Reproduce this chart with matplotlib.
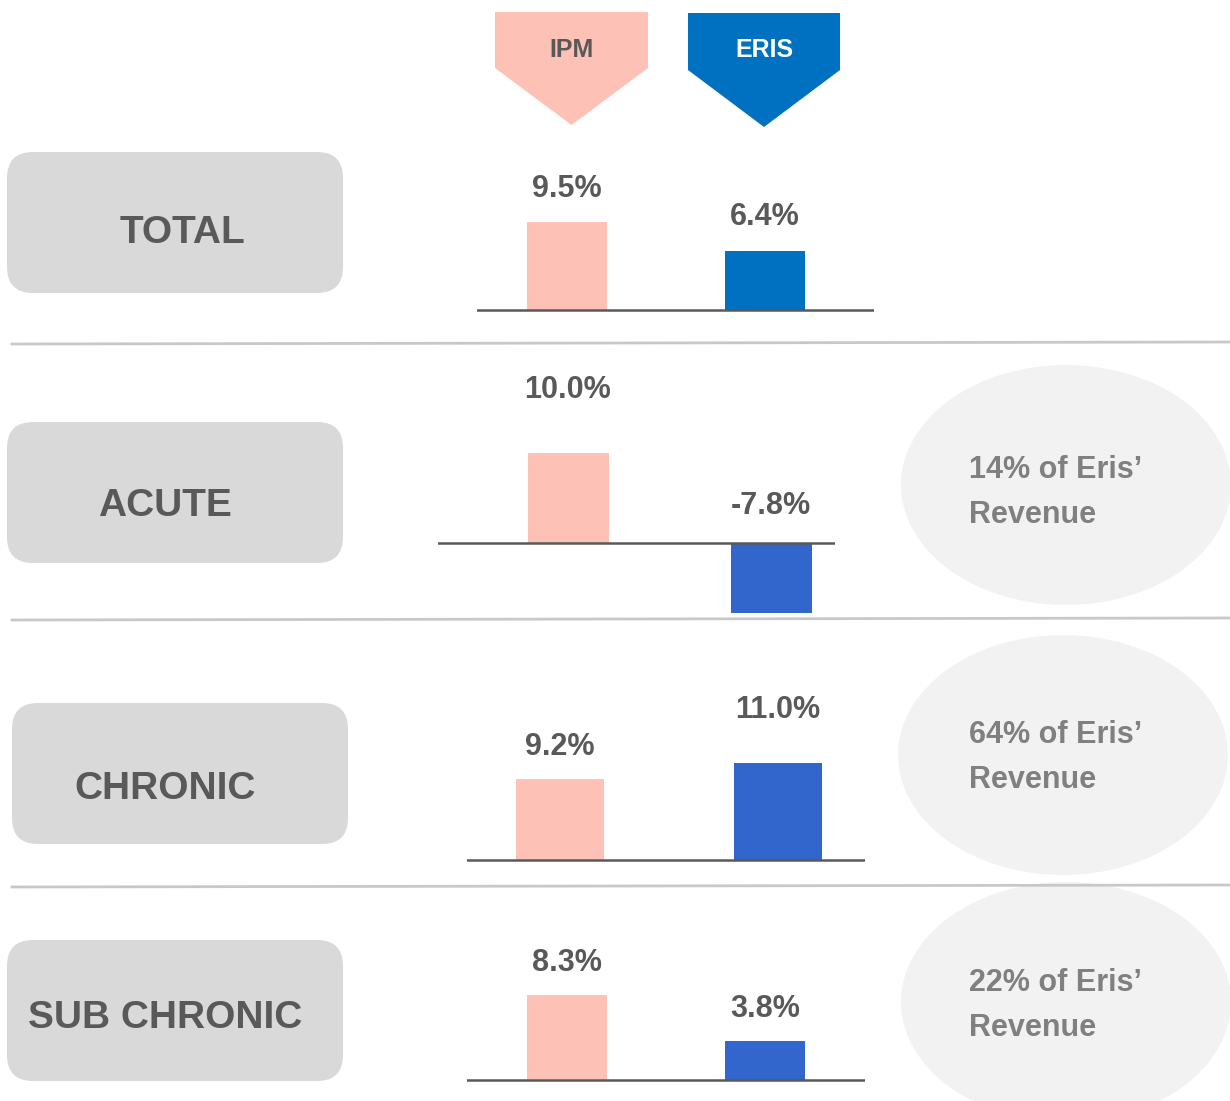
import numpy as np
import matplotlib.pyplot as plt
from matplotlib.patches import FancyBboxPatch, Ellipse, Polygon

plt.rcParams['font.family'] = ['Liberation Sans', 'DejaVu Sans']
plt.rcParams['font.weight'] = 'bold'

# data
segments = ['TOTAL', 'ACUTE', 'CHRONIC', 'SUB CHRONIC']
series = ['IPM', 'ERIS']
ipm_growth = [9.5, 10.0, 9.2, 8.3]
eris_growth = [6.4, -7.8, 11.0, 3.8]
revenue_share = [None, 14, 64, 22]

ipm_color = '#fdc1b5'
eris_colors = ['#0070c0', '#3366cc', '#3366cc', '#3366cc']
text_dark = '#595959'

W, H = 1230, 1101
fig = plt.figure(figsize=(W / 100, H / 100), dpi=100)
bg = fig.add_axes([0, 0, 1, 1])
bg.set_xlim(0, W)
bg.set_ylim(H, 0)
bg.axis('off')

# header arrows
hdr = [(495, 648, 12, 68, 125, ipm_color, text_dark),
       (688, 840, 13, 70, 127, '#0070c0', 'white')]
for name, (x0, x1, yt, ys, yp, fc, tc) in zip(series, hdr):
    xm = (x0 + x1) / 2
    bg.add_patch(Polygon([(x0, yt), (x1, yt), (x1, ys), (xm, yp), (x0, ys)],
                         closed=True, fc=fc, ec='none'))
    bg.text(xm, 50, name, ha='center', va='center', fontsize=18, color=tc)

# separators
for y in [343, 619, 886]:
    bg.plot([12, 1230], [y + 1, y - 1], color='#c8c8c8', lw=2)

# left rounded boxes
boxes = [(7, 152, 182, 233), (7, 422, 165, 506), (12, 703, 165, 789), (7, 940, 165, 1018)]
for seg, (bx, by, tx, ty) in zip(segments, boxes):
    bg.add_patch(FancyBboxPatch((bx + 26, by + 26), 336 - 52, 141 - 52,
                                boxstyle='round,pad=26', fc='#d9d9d9', ec='none'))
    bg.text(tx, ty, seg, ha='center', va='center', fontsize=28, color=text_dark)

# ellipses with revenue share
ells = [None, (1066, 485, 470), (1063, 755, 735), (1066, 1002, 983)]
for share, e in zip(revenue_share, ells):
    if share is None:
        continue
    cx, cy, ty = e
    bg.add_patch(Ellipse((cx, cy), 330, 240, fc='#f2f2f2', ec='none'))
    bg.text(969, ty, f"{share}% of Eris\u2019", ha='left', va='center',
            fontsize=22, color='#808080')
    bg.text(969, ty + 45, "Revenue", ha='left', va='center',
            fontsize=22, color='#808080')

# bar panels: line x-range, bar centers, vertical box, baseline, px per %
panels = [
    dict(x0=477, x1=874, c=(567, 765), yt=150, yb=320, base=310, scale=9.25, off=(33, 34)),
    dict(x0=438, x1=835, c=(568, 771), yt=360, yb=616, base=543, scale=9.0, off=(63, 37)),
    dict(x0=467, x1=865, c=(560, 778), yt=680, yb=870, base=860, scale=8.8, off=(32, 53)),
    dict(x0=467, x1=865, c=(567, 765), yt=930, yb=1092, base=1080, scale=10.2, off=(32, 32)),
]
bar_px = [80, 81, 88, 80]

for i, p in enumerate(panels):
    ax = fig.add_axes([p['x0'] / W, 1 - p['yb'] / H,
                       (p['x1'] - p['x0']) / W, (p['yb'] - p['yt']) / H])
    sp = p['c'][1] - p['c'][0]
    ax.set_xlim(-(p['c'][0] - p['x0']) / sp, 1 + (p['x1'] - p['c'][1]) / sp)
    ax.set_ylim((p['base'] - p['yb']) / p['scale'], (p['base'] - p['yt']) / p['scale'])
    vals = [ipm_growth[i], eris_growth[i]]
    ax.bar([0, 1], vals, width=bar_px[i] / sp, color=[ipm_color, eris_colors[i]], zorder=2)
    ax.axhline(0, color=text_dark, lw=1.8, zorder=3)
    for j, v in enumerate(vals):
        ax.annotate(f"{v:.1f}%", (j, max(v, 0)), xytext=(0, p['off'][j] * 0.72),
                    textcoords='offset points', ha='center', va='center',
                    fontsize=22, color=text_dark)
    ax.axis('off')
    ax.patch.set_alpha(0)

fig.savefig('out.png', dpi=100)
